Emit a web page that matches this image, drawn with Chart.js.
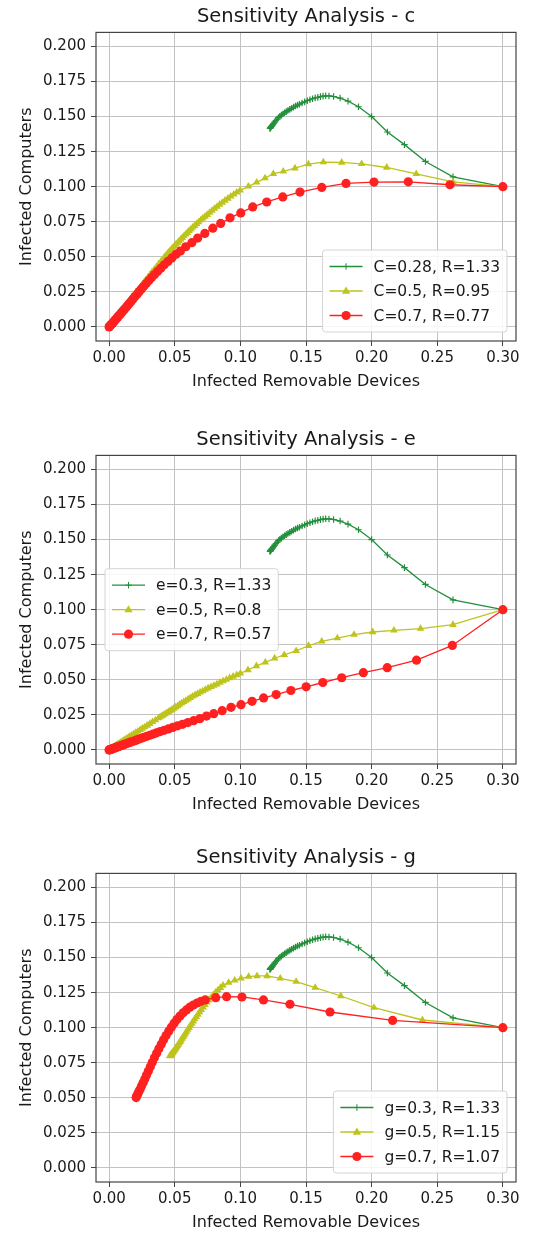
<!DOCTYPE html>
<html>
<head>
<meta charset="utf-8">
<script src="https://cdn.jsdelivr.net/npm/chart.js@4.4.1/dist/chart.umd.min.js"></script>
<style>
  body { margin: 0; background: #fff; }
  .plot { position: absolute; left: 0; width: 540px; height: 400px; }
</style>
</head>
<body>
<div class="plot" style="top:0px"><canvas id="chartC" width="540" height="400"></canvas></div>
<div class="plot" style="top:423px"><canvas id="chartE" width="540" height="400"></canvas></div>
<div class="plot" style="top:841px"><canvas id="chartG" width="540" height="400"></canvas></div>
<script>
const xTicks = [0, 0.05, 0.1, 0.15, 0.2, 0.25, 0.3];
const yTicks = [0, 0.025, 0.05, 0.075, 0.1, 0.125, 0.15, 0.175, 0.2];

// baseline run (same in all three panels)
const baseX = [0.300, 0.262, 0.241, 0.225, 0.212, 0.200, 0.190, 0.182, 0.176, 0.171, 0.1675, 0.165, 0.163, 0.161, 0.159, 0.157, 0.155, 0.153, 0.151, 0.149, 0.147, 0.145, 0.1435, 0.142, 0.1405, 0.139, 0.1376, 0.1362, 0.1349, 0.1336, 0.1324, 0.1312, 0.1301, 0.129, 0.128, 0.127, 0.1261, 0.1253, 0.1246, 0.124, 0.1235, 0.1231, 0.1228, 0.1226];
const baseY = [0.100, 0.107, 0.118, 0.130, 0.139, 0.150, 0.157, 0.161, 0.1632, 0.1643, 0.1647, 0.1648, 0.1646, 0.1642, 0.1637, 0.1633, 0.1627, 0.1620, 0.1613, 0.1605, 0.1597, 0.1588, 0.1582, 0.1575, 0.1567, 0.1559, 0.1551, 0.1543, 0.1535, 0.1527, 0.1518, 0.1510, 0.1502, 0.1492, 0.1481, 0.1470, 0.1460, 0.1450, 0.1441, 0.1434, 0.1428, 0.1423, 0.1419, 0.1416];

// c panel
const cMidX = [0.300, 0.262, 0.234, 0.2115, 0.1924, 0.1772, 0.1632, 0.1518, 0.1416, 0.1327, 0.1251, 0.1188, 0.1124, 0.1061, 0.0998, 0.0973, 0.095, 0.0927, 0.0905, 0.0883, 0.0862, 0.0842, 0.0822, 0.0803, 0.0784, 0.0766, 0.0748, 0.0731, 0.0714, 0.0698, 0.0682, 0.0667, 0.0652, 0.0637, 0.0623, 0.0609, 0.0596, 0.0583, 0.057, 0.0557, 0.0545, 0.0533, 0.0521, 0.0509, 0.0498, 0.0487, 0.0476, 0.0465, 0.0455, 0.0445, 0.0435, 0.0425, 0.0415, 0.0396, 0.0378, 0.036, 0.0343, 0.0326, 0.031, 0.0294, 0.0279, 0.0264, 0.025, 0.0236, 0.0222, 0.0209, 0.0196, 0.0183, 0.0171, 0.0159, 0.0147, 0.0136, 0.0125, 0.0114, 0.0104, 0.0094, 0.0084, 0.0075, 0.0066, 0.0057, 0.0049, 0.0041, 0.0033, 0.0026, 0.0019, 0.0012, 0.0006, 0.0];
const cMidY = [0.100, 0.1035, 0.1092, 0.1137, 0.1163, 0.1173, 0.1175, 0.1161, 0.1132, 0.1109, 0.1092, 0.1061, 0.1031, 0.1002, 0.0974, 0.0960, 0.0945, 0.0931, 0.0916, 0.0902, 0.0887, 0.0873, 0.0858, 0.0844, 0.0830, 0.0815, 0.0800, 0.0788, 0.0775, 0.0762, 0.0748, 0.0735, 0.0722, 0.0710, 0.0697, 0.0685, 0.0672, 0.0660, 0.0648, 0.0636, 0.0624, 0.0612, 0.0600, 0.0589, 0.0578, 0.0566, 0.0555, 0.0544, 0.0533, 0.0523, 0.0512, 0.0501, 0.0490, 0.0469, 0.0449, 0.0429, 0.0409, 0.0390, 0.0371, 0.0352, 0.0334, 0.0316, 0.0299, 0.0283, 0.0266, 0.0250, 0.0235, 0.0219, 0.0205, 0.0190, 0.0176, 0.0163, 0.0150, 0.0137, 0.0125, 0.0113, 0.0101, 0.0090, 0.0079, 0.0069, 0.0059, 0.0049, 0.0040, 0.0031, 0.0023, 0.0014, 0.0007, 0.0];
const cHighX = [0.300, 0.2597, 0.2279, 0.2018, 0.1805, 0.162, 0.1454, 0.1323, 0.1201, 0.1094, 0.1003, 0.0921, 0.085, 0.079, 0.0729, 0.0675, 0.063, 0.0584, 0.0543, 0.051, 0.0478, 0.0448, 0.042, 0.0394, 0.0369, 0.0346, 0.0324, 0.0303, 0.0283, 0.0264, 0.0246, 0.0229, 0.0213, 0.0197, 0.0182, 0.0168, 0.0155, 0.0142, 0.013, 0.0118, 0.0107, 0.0096, 0.0086, 0.0076, 0.0067, 0.0058, 0.005, 0.0042, 0.0034, 0.0027, 0.002, 0.0014, 0.0008, 0.0003, 0.0];
const cHighY = [0.100, 0.1014, 0.1035, 0.1033, 0.1023, 0.0995, 0.0962, 0.0927, 0.0891, 0.0856, 0.0813, 0.0778, 0.0738, 0.0704, 0.0667, 0.0634, 0.0601, 0.0572, 0.0541, 0.0518, 0.0492, 0.0467, 0.0443, 0.0419, 0.0396, 0.0374, 0.0352, 0.0331, 0.0310, 0.0290, 0.0271, 0.0252, 0.0234, 0.0217, 0.0200, 0.0184, 0.0169, 0.0155, 0.0141, 0.0128, 0.0116, 0.0104, 0.0093, 0.0082, 0.0072, 0.0062, 0.0053, 0.0045, 0.0036, 0.0029, 0.0021, 0.0015, 0.0008, 0.0003, 0.0];

// e panel
const eMidX = [0.300, 0.262, 0.2372, 0.217, 0.2008, 0.1866, 0.1739, 0.162, 0.1519, 0.1425, 0.1334, 0.1261, 0.119, 0.1122, 0.1058, 0.1, 0.0972, 0.0945, 0.0919, 0.0893, 0.0868, 0.0844, 0.0821, 0.0798, 0.0776, 0.0754, 0.0733, 0.0713, 0.0693, 0.0674, 0.0655, 0.0637, 0.0619, 0.0602, 0.0585, 0.0569, 0.0553, 0.0537, 0.0522, 0.0507, 0.0492, 0.0478, 0.0464, 0.0451, 0.0438, 0.0425, 0.0412, 0.04, 0.0388, 0.0376, 0.0353, 0.0331, 0.031, 0.029, 0.0271, 0.0253, 0.0236, 0.0219, 0.0203, 0.0188, 0.0173, 0.0159, 0.0146, 0.0133, 0.0121, 0.0109, 0.0098, 0.0087, 0.0077, 0.0067, 0.0058, 0.0049, 0.0041, 0.0033, 0.0025, 0.0018, 0.0011, 0.0005, 0.0];
const eMidY = [0.100, 0.0893, 0.0865, 0.0853, 0.0841, 0.0822, 0.0798, 0.0774, 0.0743, 0.0707, 0.0678, 0.0654, 0.0625, 0.0599, 0.057, 0.0546, 0.0535, 0.0524, 0.0513, 0.0502, 0.0491, 0.0480, 0.0469, 0.0459, 0.0450, 0.0440, 0.0430, 0.0420, 0.0411, 0.0401, 0.0392, 0.0382, 0.0372, 0.0362, 0.0352, 0.0343, 0.0334, 0.0324, 0.0314, 0.0305, 0.0296, 0.0287, 0.0279, 0.0271, 0.0263, 0.0256, 0.0248, 0.0241, 0.0234, 0.0227, 0.0213, 0.0200, 0.0187, 0.0175, 0.0163, 0.0153, 0.0143, 0.0133, 0.0123, 0.0114, 0.0105, 0.0097, 0.0089, 0.0081, 0.0074, 0.0066, 0.0060, 0.0053, 0.0047, 0.0041, 0.0035, 0.0030, 0.0025, 0.0020, 0.0015, 0.0011, 0.0007, 0.0003, 0.0];
const eHighX = [0.300, 0.2615, 0.2342, 0.2119, 0.1937, 0.1772, 0.1628, 0.1501, 0.1385, 0.1273, 0.1177, 0.1089, 0.1005, 0.0929, 0.0861, 0.0797, 0.0742, 0.0691, 0.0644, 0.06, 0.0559, 0.0521, 0.0485, 0.0451, 0.0419, 0.0389, 0.0361, 0.0335, 0.031, 0.0287, 0.0265, 0.0244, 0.0224, 0.0206, 0.0189, 0.0173, 0.0158, 0.0144, 0.013, 0.0117, 0.0105, 0.0094, 0.0083, 0.0073, 0.0064, 0.0055, 0.0047, 0.0039, 0.0032, 0.0025, 0.0019, 0.0013, 0.0007, 0.0002, 0.0];
const eHighY = [0.100, 0.0745, 0.064, 0.0587, 0.0551, 0.0515, 0.0481, 0.045, 0.0424, 0.0395, 0.0371, 0.0347, 0.0323, 0.0304, 0.028, 0.0259, 0.0242, 0.0223, 0.0209, 0.0195, 0.0183, 0.0172, 0.0161, 0.0150, 0.0140, 0.0131, 0.0122, 0.0113, 0.0105, 0.0097, 0.0090, 0.0083, 0.0076, 0.0070, 0.0064, 0.0059, 0.0054, 0.0049, 0.0044, 0.0040, 0.0036, 0.0032, 0.0028, 0.0025, 0.0022, 0.0019, 0.0016, 0.0013, 0.0011, 0.0009, 0.0006, 0.0004, 0.0002, 0.0001, 0.0];

// g panel
const gMidX = [0.300, 0.2387, 0.2018, 0.1765, 0.157, 0.1425, 0.1304, 0.1203, 0.1127, 0.1063, 0.1005, 0.0957, 0.0911, 0.0868, 0.0848, 0.0829, 0.0811, 0.0793, 0.0776, 0.076, 0.0745, 0.073, 0.0716, 0.0702, 0.0689, 0.0676, 0.0664, 0.0652, 0.0641, 0.063, 0.0619, 0.0609, 0.0599, 0.059, 0.0581, 0.0572, 0.0564, 0.0556, 0.0548, 0.0541, 0.0534, 0.0527, 0.052, 0.0514, 0.0508, 0.0502, 0.0497, 0.0492, 0.0487, 0.0483, 0.0479, 0.0476, 0.0473, 0.047, 0.0468, 0.0466, 0.0464, 0.0463];
const gMidY = [0.100, 0.1055, 0.1143, 0.1226, 0.1286, 0.1329, 0.1352, 0.1369, 0.1369, 0.1364, 0.1352, 0.1338, 0.1321, 0.1302, 0.1285, 0.1268, 0.1251, 0.1233, 0.1215, 0.1198, 0.1181, 0.1163, 0.1146, 0.1128, 0.1111, 0.1094, 0.1077, 0.1061, 0.1045, 0.1030, 0.1015, 0.1000, 0.0986, 0.0972, 0.0959, 0.0946, 0.0934, 0.0922, 0.0911, 0.0900, 0.0890, 0.0880, 0.0871, 0.0862, 0.0854, 0.0846, 0.0839, 0.0833, 0.0827, 0.0822, 0.0817, 0.0813, 0.0809, 0.0806, 0.0803, 0.0801, 0.0799, 0.0798];
const gHighX = [0.300, 0.216, 0.1683, 0.1378, 0.1176, 0.1012, 0.0895, 0.0812, 0.0732, 0.0700, 0.0670, 0.0642, 0.0615, 0.0589, 0.0564, 0.054, 0.0517, 0.0495, 0.0474, 0.0454, 0.0434, 0.0415, 0.0397, 0.0379, 0.0362, 0.0345, 0.0329, 0.0314, 0.0299, 0.0285, 0.0272, 0.0259, 0.0247, 0.0236, 0.0226, 0.0218, 0.0211, 0.0206];
const gHighY = [0.100, 0.1052, 0.1112, 0.1167, 0.1198, 0.1219, 0.1221, 0.1214, 0.1198, 0.1188, 0.1176, 0.1162, 0.1146, 0.1127, 0.1106, 0.1083, 0.1058, 0.1032, 0.1004, 0.0975, 0.0945, 0.0914, 0.0882, 0.0850, 0.0818, 0.0785, 0.0753, 0.0722, 0.0691, 0.0662, 0.0634, 0.0608, 0.0584, 0.0562, 0.0543, 0.0527, 0.0513, 0.0502];

const cLabels = ["C=0.28, R=1.33", "C=0.5, R=0.95", "C=0.7, R=0.77"];
const eLabels = ["e=0.3, R=1.33", "e=0.5, R=0.8", "e=0.7, R=0.57"];
const gLabels = ["g=0.3, R=1.33", "g=0.5, R=1.15", "g=0.7, R=1.07"];

const FONT = '"DejaVu Sans", "Noto Sans", sans-serif';
const TEXT = "#1a1a1a";
const GREEN = "#22903a", YELLOW = "#bec41c", RED = "#ff2020";

function toPoints(xs, ys) {
    return xs.map((x, i) => ({ x, y: ys[i] }));
}

function drawMarker(ctx, style, x, y, r, color) {
    ctx.fillStyle = color;
    ctx.strokeStyle = color;
    ctx.beginPath();
    if (style === "circle") {
        ctx.arc(x, y, r, 0, Math.PI * 2);
        ctx.fill();
    } else if (style === "triangle") {
        ctx.moveTo(x, y - r);
        ctx.lineTo(x + r * 0.95, y + r * 0.6);
        ctx.lineTo(x - r * 0.95, y + r * 0.6);
        ctx.closePath();
        ctx.fill();
    } else {
        ctx.lineWidth = 1;
        ctx.moveTo(x - r, y); ctx.lineTo(x + r, y);
        ctx.moveTo(x, y - r); ctx.lineTo(x, y + r);
        ctx.stroke();
    }
}

// axes frame like matplotlib spines
const frame = {
    id: "frame",
    afterDatasetsDraw(chart) {
        const { ctx, chartArea: a } = chart;
        ctx.save();
        ctx.strokeStyle = "#444";
        ctx.lineWidth = 1.2;
        ctx.strokeRect(a.left, a.top, a.right - a.left, a.bottom - a.top);
        ctx.restore();
    }
};

// legend drawn inside the axes
const insideLegend = {
    id: "insideLegend",
    afterDraw(chart, args, opts) {
        const { ctx, chartArea: a } = chart;
        const sets = chart.data.datasets;
        ctx.save();
        ctx.font = "15.5px " + FONT;
        const textW = Math.max(...sets.map(d => ctx.measureText(d.label).width));
        const pad = 7, handle = 33, gap = 11, row = 24.5;
        const w = pad * 2 + handle + gap + textW;
        const h = pad * 2 + row * (sets.length - 1) + 19;
        let x, y;
        if (opts.loc === "center left") {
            x = a.left + opts.inset;
            y = (a.top + a.bottom) / 2 - h / 2;
        } else {
            x = a.right - opts.inset - w;
            y = a.bottom - opts.inset - h;
        }
        ctx.fillStyle = "rgba(255,255,255,0.85)";
        ctx.strokeStyle = "#d4d4d4";
        ctx.lineWidth = 1;
        ctx.beginPath();
        ctx.roundRect(x, y, w, h, 3);
        ctx.fill();
        ctx.stroke();
        sets.forEach((d, i) => {
            const cy = y + pad + 9.5 + i * row;
            const hx = x + pad;
            ctx.strokeStyle = d.borderColor;
            ctx.lineWidth = d.borderWidth;
            ctx.beginPath();
            ctx.moveTo(hx, cy);
            ctx.lineTo(hx + handle, cy);
            ctx.stroke();
            drawMarker(ctx, d.pointStyle, hx + handle / 2, cy, d.pointRadius, d.borderColor);
            ctx.fillStyle = TEXT;
            ctx.textBaseline = "middle";
            ctx.textAlign = "left";
            ctx.fillText(d.label, hx + handle + gap, cy + 1);
        });
        ctx.restore();
    }
};

function makeSeries(label, xs, ys, color, style, radius, order) {
    return {
        label,
        data: toPoints(xs, ys),
        showLine: true,
        borderColor: color,
        backgroundColor: color,
        borderWidth: 1.3,
        pointStyle: style,
        pointRadius: radius,
        pointBorderWidth: style === "cross" ? 1.2 : 0,
        pointHoverRadius: radius,
        order
    };
}

function createPanel(canvas, title, labels, midX, midY, highX, highY, legendLoc) {
    return new Chart(document.getElementById(canvas), {
        type: "scatter",
        data: {
            datasets: [
                makeSeries(labels[0], baseX, baseY, GREEN, "cross", 3.3, 2),
                makeSeries(labels[1], midX, midY, YELLOW, "triangle", 4.4, 1),
                makeSeries(labels[2], highX, highY, RED, "circle", 4.6, 0)
            ]
        },
        options: {
            responsive: false,
            animation: false,
            devicePixelRatio: 1,
            layout: { padding: { left: 0, right: 24, top: 0, bottom: 9 } },
            scales: {
                x: {
                    type: "linear",
                    min: -0.01,
                    max: 0.31,
                    afterBuildTicks: s => { s.ticks = xTicks.map(v => ({ value: v })); },
                    afterFit: s => { s.height = 50; },
                    ticks: {
                        callback: v => v.toFixed(2),
                        color: TEXT,
                        padding: 3,
                        maxRotation: 0,
                        autoSkip: false,
                        font: { size: 15, family: FONT }
                    },
                    grid: { color: "#c2c2c2", tickColor: "#444", tickLength: 5, lineWidth: 1 },
                    border: { display: false },
                    title: {
                        display: true,
                        text: "Infected Removable Devices",
                        color: TEXT,
                        padding: { top: 2, bottom: 0 },
                        font: { size: 16, family: FONT }
                    }
                },
                y: {
                    type: "linear",
                    min: -0.01,
                    max: 0.21,
                    afterBuildTicks: s => { s.ticks = yTicks.map(v => ({ value: v })); },
                    afterFit: s => { s.width = 96; },
                    ticks: {
                        callback: v => v.toFixed(3),
                        color: TEXT,
                        padding: 5,
                        autoSkip: false,
                        font: { size: 15, family: FONT }
                    },
                    grid: { color: "#c2c2c2", tickColor: "#444", tickLength: 5, lineWidth: 1 },
                    border: { display: false },
                    title: {
                        display: true,
                        text: "Infected Computers",
                        color: TEXT,
                        padding: { top: 17, bottom: 0 },
                        font: { size: 16, family: FONT }
                    }
                }
            },
            plugins: {
                title: {
                    display: true,
                    text: title,
                    fullSize: false,
                    color: TEXT,
                    padding: { top: 5, bottom: 4 },
                    font: { size: 19.5, weight: "normal", family: FONT }
                },
                legend: { display: false },
                tooltip: { enabled: false },
                insideLegend: { loc: legendLoc, inset: 9 }
            }
        },
        plugins: [frame, insideLegend]
    });
}

createPanel("chartC", "Sensitivity Analysis - c", cLabels, cMidX, cMidY, cHighX, cHighY, "lower right");
createPanel("chartE", "Sensitivity Analysis - e", eLabels, eMidX, eMidY, eHighX, eHighY, "center left");
createPanel("chartG", "Sensitivity Analysis - g", gLabels, gMidX, gMidY, gHighX, gHighY, "lower right");
</script>
</body>
</html>
